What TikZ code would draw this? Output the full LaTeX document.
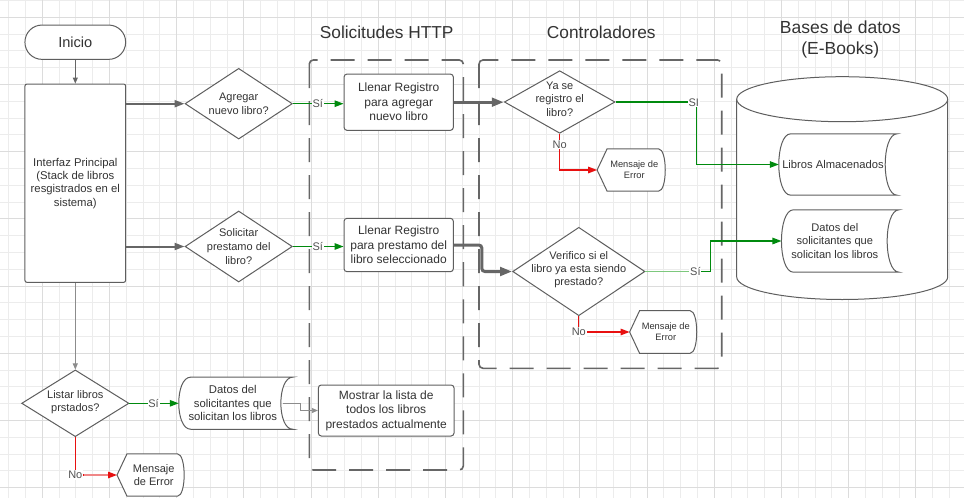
\documentclass[tikz,border=0pt]{standalone}
\usepackage{fontspec}
\setmainfont{Liberation Sans}
\usetikzlibrary{arrows.meta,shapes.geometric,calc}
\definecolor{txtc}{HTML}{333333}
\definecolor{linec}{HTML}{5E5E5E}
\definecolor{dashc}{HTML}{666666}
\definecolor{gminor}{HTML}{ECECEC}
\definecolor{gmajor}{HTML}{DCDCDC}
\definecolor{greenc}{RGB}{0,138,14}
\definecolor{lgreenc}{RGB}{125,200,125}
\definecolor{redc}{RGB}{232,16,16}
\definecolor{lredc}{RGB}{240,135,135}
\definecolor{grayc}{HTML}{666666}
\definecolor{lgrayc}{HTML}{8C8C8C}
\newcommand\fs[2]{\fontsize{#1}{#2}\selectfont}
\newcommand\msgshape[1]{%
  \draw[shp] (#1.west) -- ([xshift=10pt]#1.north west) -- ([xshift=-7pt]#1.north east)
    .. controls ([xshift=2pt]#1.north east) and ([xshift=2pt]#1.south east) .. ([xshift=-7pt]#1.south east)
    -- ([xshift=10pt]#1.south west) -- cycle;}
\newcommand\storeshape[1]{%
  \draw[shp] ([xshift=12pt]#1.north west)
    .. controls ([xshift=-4pt]#1.north west) and ([xshift=-4pt]#1.south west) .. ([xshift=12pt]#1.south west)
    -- (#1.south east)
    .. controls ([xshift=-16pt]#1.south east) and ([xshift=-16pt]#1.north east) .. (#1.north east)
    -- cycle;}
\tikzset{
  shp/.style={draw=linec, line width=1pt, fill=white},
  ghost/.style={draw=none, inner sep=0pt, align=center, text=txtc},
  boxn/.style={shp, rounded corners=3pt, inner sep=0pt, align=center, text=txtc, font=\fs{12}{14.5}},
  diam/.style={shp, diamond, inner sep=0pt},
  dtext/.style={ghost, font=\fs{11}{13.3}},
  stext/.style={ghost, font=\fs{11.2}{13.3}},
  mtext/.style={ghost, font=\fs{9.3}{10.8}},
  lane/.style={draw=dashc, line width=1.6pt, dash pattern=on 24pt off 13pt, rounded corners=4pt},
  title/.style={ghost, font=\fs{17.3}{20.7}},
  lbl/.style={fill=white, inner sep=0.8pt, text=txtc!85, font=\fs{11}{13}},
  gline/.style={draw=greenc, line width=1.3pt, -{Triangle[length=9pt,width=6.5pt]}},
  rline/.style={draw=redc, line width=1.3pt, -{Triangle[length=9pt,width=6.5pt]}},
  fat/.style={draw=grayc, line width=2pt, -{Triangle[length=10pt,width=7pt]}},
  fatter/.style={draw=grayc, line width=3pt, rounded corners=3pt, -{Triangle[length=12pt,width=8.5pt]}},
  thinl/.style={draw=#1, line width=0.9pt, -{Triangle[length=6pt,width=5pt]}},
}
\begin{document}
\begin{tikzpicture}[x=1pt, y=-1pt]
\useasboundingbox (0,0) rectangle (964,498);
\fill[white] (0,0) rectangle (964,498);
% grid
\foreach \i in {0,...,56} \draw[gminor, line width=0.9pt] ({8.7+16.8*\i},0) -- ({8.7+16.8*\i},498);
\foreach \i in {0,...,29} \draw[gminor, line width=0.9pt] (0,{0.5+16.8*\i}) -- (964,{0.5+16.8*\i});
\foreach \i in {0,...,13} \draw[gmajor, line width=0.9pt] ({42.3+67.2*\i},0) -- ({42.3+67.2*\i},498);
\foreach \i in {0,...,7} \draw[gmajor, line width=0.9pt] (0,{17.3+67.2*\i}) -- (964,{17.3+67.2*\i});

% titles
\node[title] (tHttp) at (386.7,32.3) {Solicitudes HTTP};
\node[title] (tCtrl) at (601.3,32.3) {Controladores};
\node[title, font=\fs{17.5}{20.7}] (tDb) at (840.3,39.7) {Bases de datos\\(E-Books)};

% lanes
\draw[lane] (309.3,60) rectangle (463.3,470);
\draw[lane] (479,60) rectangle (721.7,368.3);

% database cylinder
\draw[shp] (736.7,99.2) -- (736.7,277) .. controls (736.7,289.4) and (783.9,299.5) .. (842.2,299.5)
  .. controls (900.5,299.5) and (947.7,289.4) .. (947.7,277) -- (947.7,99.2);
\draw[shp] (842.2,99.2) ellipse [x radius=105.5pt, y radius=22.5pt];

% left column
\node[boxn, rounded corners=17pt, minimum width=100.7pt, minimum height=34.3pt, font=\fs{14.6}{17}] (ini) at (75.3,42.2) {Inicio};
\node[boxn, rounded corners=2pt, minimum width=100.7pt, minimum height=198.3pt, font=\fs{11.3}{13.4}] (ifz) at (75.3,183.2) {Interfaz Principal\\(Stack de libros\\resgistrados en el\\sistema)};

% diamonds
\node[diam, minimum width=107.3pt, minimum height=70.7pt] (d1) at (238.7,103.7) {};
\node[dtext] (d1t) at (d1) {Agregar\\nuevo libro?};
\node[diam, minimum width=107.3pt, minimum height=71pt] (d2) at (238.7,246.5) {};
\node[dtext, font=\fs{11}{13.6}] (d2t) at (d2) {Solicitar\\prestamo del\\libro?};
\node[diam, minimum width=110.7pt, minimum height=62.6pt] (d3) at (559.7,102) {};
\node[dtext, font=\fs{11}{13.6}] (d3t) at ([yshift=3pt]d3.center) {Ya se\\registro el\\libro?};
\node[diam, minimum width=132.3pt, minimum height=88.4pt] (d4) at (578.8,271.5) {};
\node[dtext, font=\fs{11}{12.7}] (d4t) at ([yshift=2pt]d4.center) {Verifico si el\\libro ya esta siendo\\prestado?};
\node[diam, minimum width=107.3pt, minimum height=66.7pt] (d5) at (75.3,403.3) {};
\node[dtext] (d5t) at ([yshift=1.5pt]d5.center) {Listar libros\\prstados?};

% process boxes
\node[boxn, minimum width=109.3pt, minimum height=56.3pt] (l1) at (398.7,102.2) {Llenar Registro\\para agregar\\nuevo libro};
\node[boxn, minimum width=109.3pt, minimum height=53.4pt] (l2) at (398.7,245) {Llenar Registro\\para prestamo del\\libro seleccionado};
\node[boxn, minimum width=135.7pt, minimum height=51pt] (mo) at (386.2,410.5) {Mostrar la lista de\\todos los libros\\prestados actualmente};

% stored data shapes
\node[ghost, minimum width=118pt, minimum height=61pt] (s1) at (838,164.5) {};
\storeshape{s1}
\node[stext] (s1t) at ([xshift=-5pt]s1.center) {Libros Almacenados};
\node[ghost, minimum width=117.3pt, minimum height=62pt] (s2) at (840.3,241) {};
\storeshape{s2}
\node[stext, font=\fs{11.1}{13.2}] (s2t) at ([xshift=-5.5pt]s2.center) {Datos del\\solicitantes que\\solicitan los libros};
\node[ghost, minimum width=113.7pt, minimum height=51.7pt] (s3) at (235.8,403.2) {};
\storeshape{s3}
\node[stext, font=\fs{11.3}{13.6}] (s3t) at ([xshift=-3pt]s3.center) {Datos del\\solicitantes que\\solicitan los libros};

% error messages
\node[ghost, minimum width=68pt, minimum height=42pt] (m1) at (631.3,170) {};
\msgshape{m1}
\node[mtext] (m1t) at ([xshift=3pt]m1.center) {Mensaje de\\Error};
\node[ghost, minimum width=67pt, minimum height=42.3pt] (m2) at (663.3,332) {};
\msgshape{m2}
\node[mtext] (m2t) at ([xshift=2.5pt]m2.center) {Mensaje de\\Error};
\node[ghost, minimum width=67pt, minimum height=42pt] (m3) at (150.7,475) {};
\msgshape{m3}
\node[ghost, font=\fs{11}{12.7}] (m3t) at ([xshift=3pt]m3.center) {Mensaje\\de Error};

% connectors
\draw[thinl=grayc] (ini) -- (ifz);
\draw[thinl=lgrayc] (ifz) -- (d5);
\draw[fat] (d1.west -| ifz.east) -- (d1.west);
\draw[fat] (d2.west -| ifz.east) -- (d2.west);
\draw[gline] (d1.east) -- node[lbl,pos=0.49] (ls1) {Sí} (d1.east -| l1.west);
\draw[gline] (d2.east) -- node[lbl,pos=0.49] (ls2) {Sí} (d2.east -| l2.west);
\draw[fatter] (l1.east) -- (l1.east -| d3.west);
\draw[fatter] (l2.east) -| ($(l2.east)!0.48!(d4.west)$) |- (d4.west);

\coordinate (c1) at (696.7,102);
\draw[gline] (d3.east) -- (c1) |- (s1.west);
\node[lbl] (ls3) at ([xshift=-3pt,yshift=-0.5pt]c1) {SI};
\draw[rline] (d3.south) |- node[lbl,pos=0.15] (ln3) {No} (m1.west);

\coordinate (c3) at (710.3,271.5);
\draw[gline] (d4.east) -- node[lbl,pos=0.77] (ls4) {Sí} (c3) |- (s2.west);
\draw[lgreenc, line width=1.3pt] (d4.east) -- (ls4.west);
\draw[rline] (d4.south) |- node[lbl,pos=0.5] (ln4) {No} (m2.west);

\draw[gline] (d5.east) -- node[lbl,pos=0.49] (ls5) {Sí} (d5.east -| s3.west);
\draw[rline] (d5.south) |- node[lbl,pos=0.5] (ln5) {No} (m3.west);
\draw[lredc, line width=1.3pt] (ln5.east) -- ([xshift=-9pt]m3.west);
\draw[thinl=lgrayc, line width=0.8pt] ([xshift=-10pt]s3.east) -| ($([xshift=-10pt]s3.east)!0.5!(mo.west)$) |- (mo.west);
\end{tikzpicture}
\end{document}
